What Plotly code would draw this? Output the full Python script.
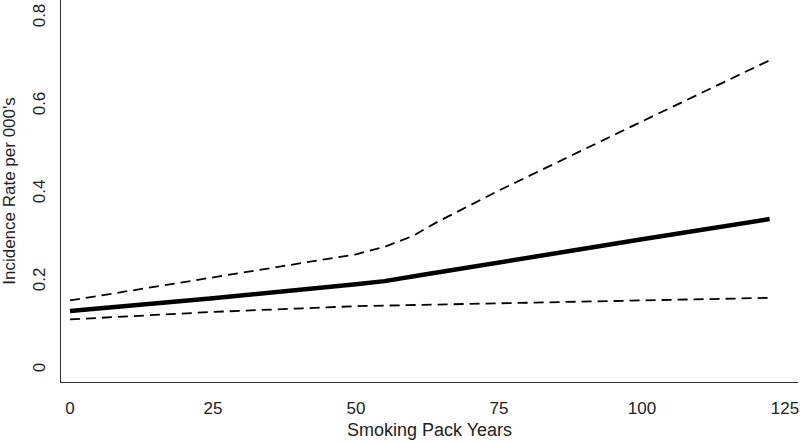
import plotly.graph_objects as go

# Data
pack_years = [0, 25, 50, 55, 62, 75, 100, 122.3]
rate_est = [0.134, 0.163, 0.195, 0.202, 0.217, 0.245, 0.297, 0.343]

upper_x = [0, 25, 50, 55, 60, 64, 75, 100, 122.3]
upper_ci = [0.158, 0.210, 0.263, 0.280, 0.305, 0.335, 0.408, 0.565, 0.704]

lower_x = [0, 25, 50, 75, 100, 122.3]
lower_ci = [0.115, 0.132, 0.145, 0.152, 0.159, 0.164]

x_ticks = [0, 25, 50, 75, 100, 125]
y_ticks = [0, 0.2, 0.4, 0.6, 0.8]
y_tick_text = ["0", "0.2", "0.4", "0.6", "0.8"]

FONT = "Liberation Sans, Arial, sans-serif"

fig = go.Figure()
fig.add_trace(go.Scatter(x=upper_x, y=upper_ci, mode="lines",
                         line=dict(color="black", width=1.8, dash="10px,6px"),
                         showlegend=False, hoverinfo="skip"))
fig.add_trace(go.Scatter(x=lower_x, y=lower_ci, mode="lines",
                         line=dict(color="black", width=1.8, dash="10px,6px"),
                         showlegend=False, hoverinfo="skip"))
fig.add_trace(go.Scatter(x=pack_years, y=rate_est, mode="lines",
                         line=dict(color="black", width=4.5),
                         showlegend=False, hoverinfo="skip"))

fig.update_layout(
    width=800, height=443,
    margin=dict(l=61, r=2, t=0, b=61),
    paper_bgcolor="white", plot_bgcolor="white",
    font=dict(family=FONT, size=17, color="#222"),
    xaxis=dict(
        range=[-1.57, 127.27],
        tickvals=x_ticks,
        ticks="", showgrid=False, zeroline=False,
        showline=True, linecolor="#333", linewidth=1.3,
        tickfont=dict(size=17),
        ticklabelstandoff=10,
        ticklabeloverflow="allow",
        automargin=False,
        title=dict(text="Smoking Pack Years", font=dict(size=18), standoff=6),
    ),
    yaxis=dict(
        range=[-0.0273, 0.841],
        tickvals=y_ticks, ticktext=y_tick_text,
        tickangle=-90,
        ticks="", showgrid=False, zeroline=False,
        showline=True, linecolor="#333", linewidth=1.3,
        tickfont=dict(size=17),
        ticklabelstandoff=8,
        ticklabeloverflow="allow",
        automargin=False,
        title=dict(text="Incidence Rate per 000's", font=dict(size=17), standoff=18),
    ),
)

fig.write_html("out.html",
               config={"displayModeBar": False},
               post_script="document.body.style.margin='0';document.body.style.overflow='hidden';")
